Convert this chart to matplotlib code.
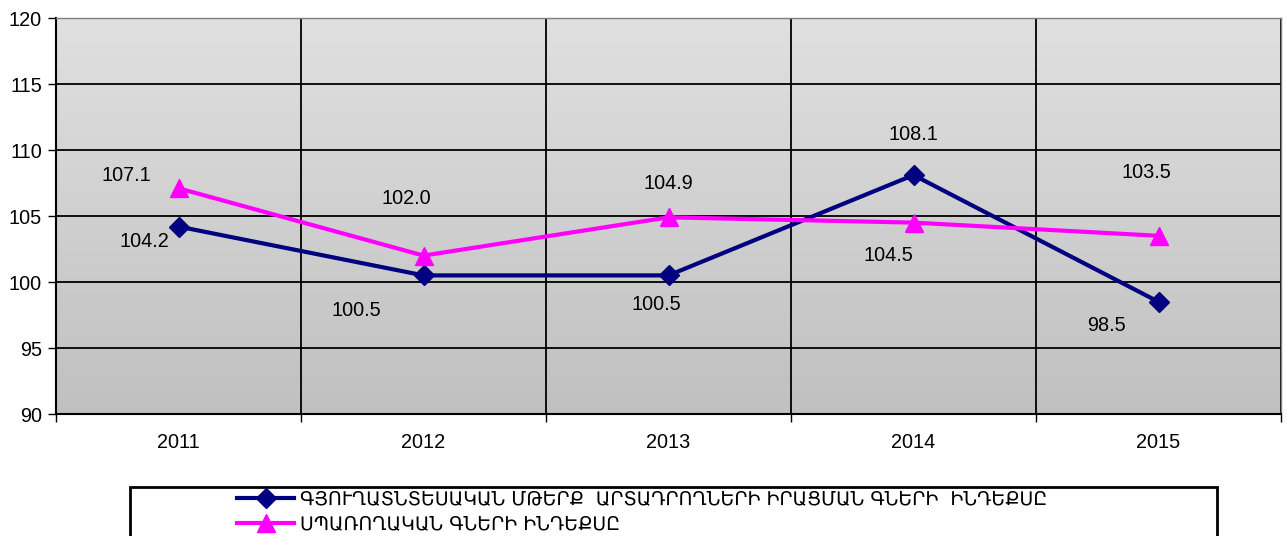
import numpy as np
import matplotlib
matplotlib.use('Agg')
import matplotlib.pyplot as plt
from matplotlib.patches import Rectangle
from matplotlib.lines import Line2D

plt.rcParams['font.family'] = ['Liberation Sans', 'DejaVu Sans']

years = ['2011', '2012', '2013', '2014', '2015']
agri_index = [104.2, 100.5, 100.5, 108.1, 98.5]
consumer_index = [107.1, 102.0, 104.9, 104.5, 103.5]
agri_label = 'ԳՅՈՒՂԱՏՆՏԵՍԱԿԱՆ ՄԹԵՐՔ  ԱՐՏԱԴՐՈՂՆԵՐԻ ԻՐԱՑՄԱՆ ԳՆԵՐԻ  ԻՆԴԵՔՍԸ'
cons_label = 'ՍՊԱՌՈՂԱԿԱՆ ԳՆԵՐԻ ԻՆԴԵՔՍԸ'

# label offsets in pixels (dx, dy) from the point
agri_off = [(-34, -15), (-67, -35), (-12, -29), (0, 41), (-52, -24)]
cons_off = [(-52, 13), (-17, 57), (0, 34), (-25, -33), (-12, 63)]

fig = plt.figure(figsize=(12.87, 5.36), dpi=100)
ax = fig.add_axes([56 / 1287, 1 - 414 / 536, 1225 / 1287, 396 / 536])

x = np.arange(len(years))
ax.set_xlim(-0.5, len(years) - 0.5)
ax.set_ylim(90, 120)

# gradient background
grad = np.linspace(0, 1, 256).reshape(-1, 1)
cmap = matplotlib.colors.LinearSegmentedColormap.from_list('bg', ['#c0c0c0', '#e0e0e0'])
ax.imshow(grad, cmap=cmap, aspect='auto', origin='lower',
          extent=[-0.5, len(years) - 0.5, 90, 120], zorder=0)

ax.set_yticks(np.arange(90, 121, 5))
ax.set_xticks(x)
ax.set_xticklabels(years)
ax.set_xticks(np.arange(-0.5, len(years), 1), minor=True)
ax.tick_params(axis='x', which='major', length=0, pad=14, labelsize=14.3)
ax.tick_params(axis='x', which='minor', length=6, width=1, direction='out')
ax.tick_params(axis='y', length=6, width=1, direction='out', labelsize=14.3, pad=4)
ax.grid(axis='y', which='major', color='black', lw=1.3, zorder=1)
ax.grid(axis='x', which='minor', color='black', lw=1.3, zorder=1)

for s in ['left', 'bottom']:
    ax.spines[s].set_linewidth(1.5)
for s in ['top', 'right']:
    ax.spines[s].set_color('#808080')
    ax.spines[s].set_linewidth(1)

ax.plot(x, agri_index, color='#000080', lw=3, marker='D', markersize=10,
        zorder=3, label=agri_label)
ax.plot(x, consumer_index, color='#ff00ff', lw=3, marker='^', markersize=13,
        zorder=3, label=cons_label)

for xi, v, (dx, dy) in zip(x, agri_index, agri_off):
    ax.annotate(f'{v:.1f}', (xi, v), xytext=(dx * 0.72, dy * 0.72),
                textcoords='offset points', ha='center', va='center', fontsize=14.3)
for xi, v, (dx, dy) in zip(x, consumer_index, cons_off):
    ax.annotate(f'{v:.1f}', (xi, v), xytext=(dx * 0.72, dy * 0.72),
                textcoords='offset points', ha='center', va='center', fontsize=14.3)

# legend box (cut by the figure bottom)
fig.patches.append(Rectangle((130 / 1287, -0.05), 1087 / 1287, (536 - 487) / 536 + 0.05,
                             transform=fig.transFigure, fill=False, ec='black', lw=2))
handles = [Line2D([], [], color='#000080', lw=3, marker='D', markersize=10),
           Line2D([], [], color='#ff00ff', lw=3, marker='^', markersize=13)]
fig.legend(handles, [agri_label, cons_label], loc='upper left',
           bbox_to_anchor=(228 / 1287, 1 - 480 / 536), frameon=False,
           prop={'family': ['DejaVu Sans'], 'size': 13.6}, handlelength=3.0,
           handletextpad=0.3, labelspacing=0.3, borderpad=0.0)

fig.savefig('out.png', dpi=100)
